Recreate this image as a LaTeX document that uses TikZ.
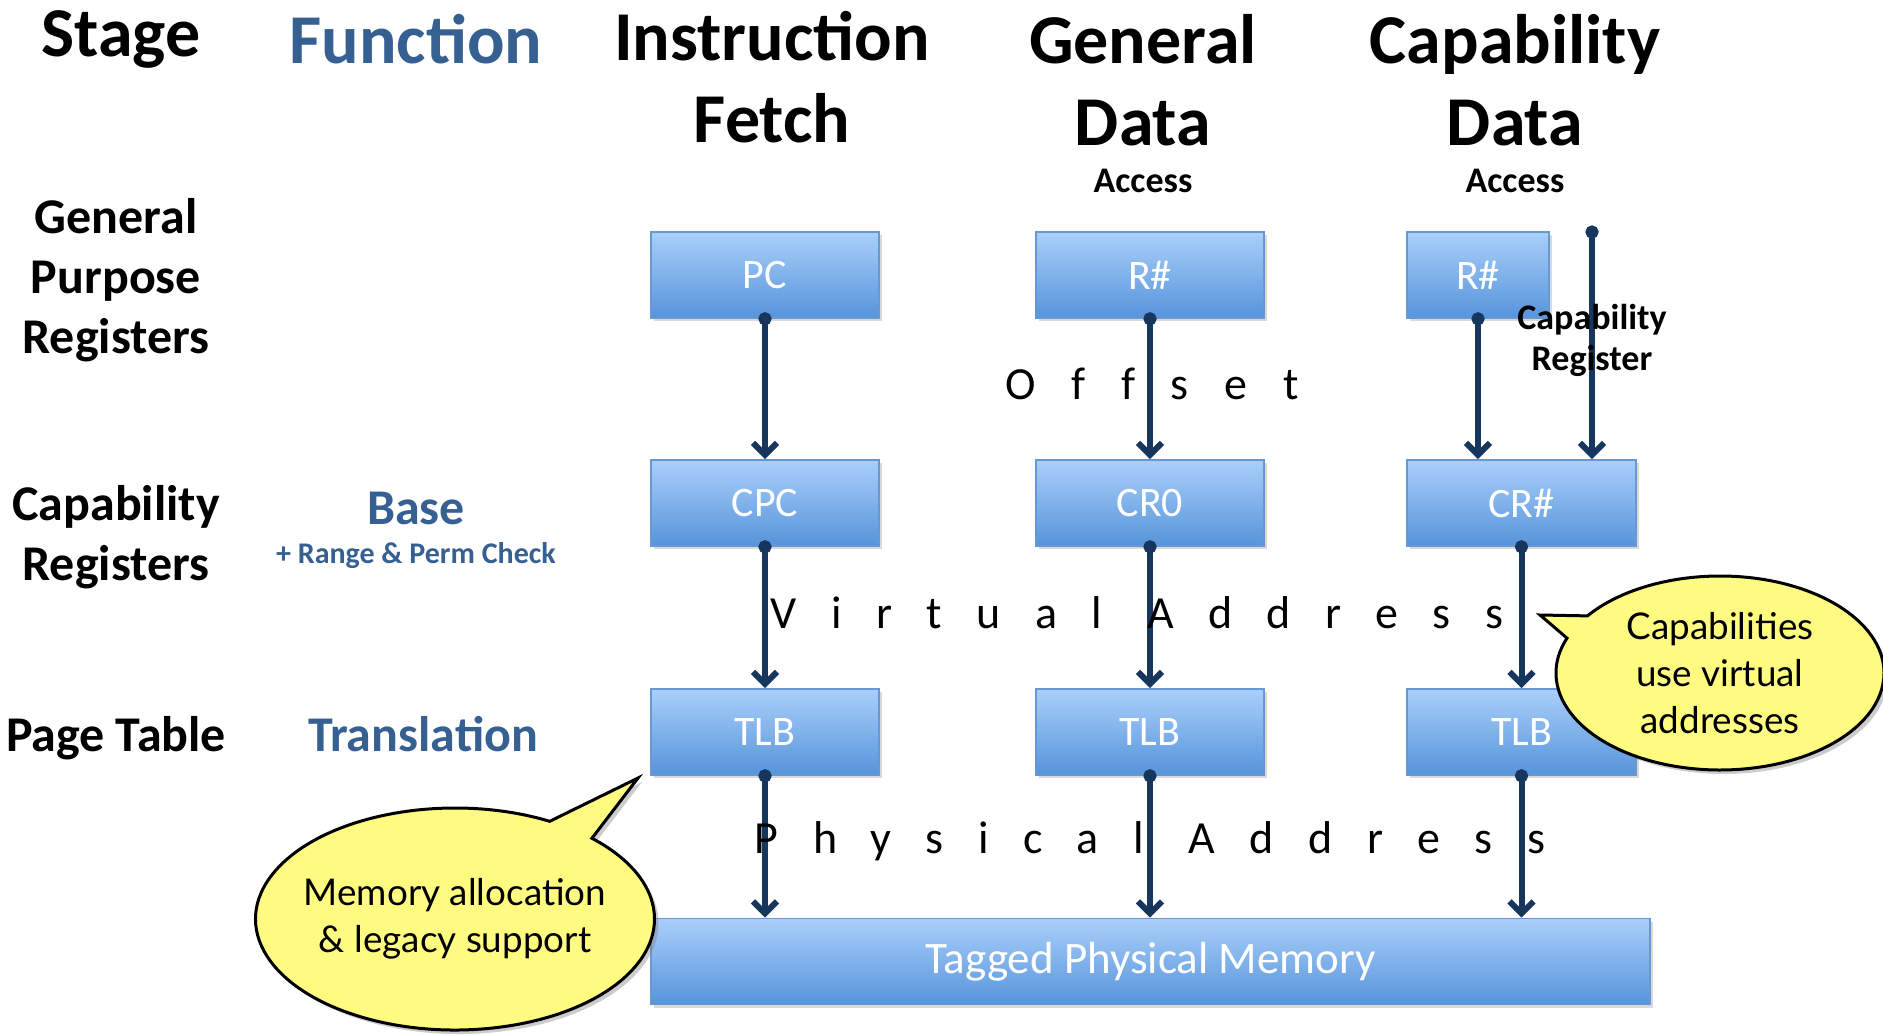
\documentclass[tikz,border=0pt]{standalone}
\usepackage{fontspec}
\setmainfont{Carlito}
\newfontfamily\bubblefont{Lato}
\usepackage{tikz}
\usetikzlibrary{positioning, arrows.meta, shapes.geometric, shapes.callouts, shadows}

\definecolor{boxtop}{RGB}{170,207,250}
\definecolor{boxbot}{RGB}{86,148,219}
\definecolor{boxline}{RGB}{104,152,212}
\definecolor{wirecol}{RGB}{23,54,93}
\definecolor{fnblue}{RGB}{54,96,146}
\definecolor{bubblecol}{RGB}{255,250,128}

\begin{document}
\begin{tikzpicture}[
  x=0.5pt, y=-0.5pt,
  reg/.style={draw=boxline, line width=0.8pt, top color=boxtop, bottom color=boxbot,
    minimum width=#1, minimum height=43pt, inner sep=0pt, text=white,
    font=\fontsize{21}{25}\selectfont,
    drop shadow={opacity=0.3, shadow xshift=1.5pt, shadow yshift=-1.5pt}},
  reg/.default=114pt,
  hdr/.style={font=\fontsize{35}{41}\selectfont\bfseries, align=center},
  row/.style={font=\fontsize{25}{30}\selectfont\bfseries, align=center},
  fn/.style={font=\fontsize{25}{30}\selectfont\bfseries, text=fnblue},
  sub/.style={font=\fontsize{18}{20.5}\selectfont\bfseries, align=center},
  spaced/.style={font=\fontsize{23}{27}\selectfont\addfontfeature{LetterSpace=#1, Ligatures=NoCommon}},
  link/.style={draw=wirecol, line width=3pt, shorten <=-3.25pt,
    {Circle[length=6.5pt]}-{Straight Barb[length=6pt, width=12pt]}},
  bubble/.style={ellipse callout, draw=black, line width=1.5pt, fill=bubblecol,
    inner sep=0pt, align=center, font=\bubblefont\fontsize{18.4}{23.5}\selectfont,
    drop shadow={opacity=0.4, shadow xshift=2pt, shadow yshift=-2pt}},
]
\useasboundingbox (0,0) rectangle (1883,1034);

% === HEADINGS ===
\node[hdr] (stage) at (121,39) {Stage};
\node[hdr, text=fnblue] (func) at (416,39) {Function};
\node[hdr] (ifetch) at (772,77) {Instruction\\Fetch};
\node[hdr] (gdata) at (1143,80) {General\\Data};
\node[sub] (gacc) at (1143,181) {Access};
\node[hdr] (cdata) at (1515,80) {Capability\\Data};
\node[sub] (cacc) at (1515,181) {Access};

% === ROW LABELS ===
\node[row] (gpr) at (116,280) {General\\Purpose\\Registers};
\node[row] (capr) at (116,537) {Capability\\Registers};
\node[row] (ptab) at (116,738) {Page Table};

\node[fn] (base) at (416,508) {Base};
\node[fn, font=\fontsize{15}{18}\selectfont\bfseries] (check) at (416,556) {+ Range \& Perm Check};
\node[fn] (trans) at (423,734) {Translation};

% === REGISTERS ===
\node[reg] (pc) at (765,275) {PC};
\node[reg] (rg) at (1150,275) {R\#};
\node[reg=71pt] (rc) at (1478,275) {R\#};

\node[reg] (cpc) at (765,503) {CPC};
\node[reg] (cr0) at (1150,503) {CR0};
\node[reg=114.5pt] (crc) at (1521.5,503) {CR\#};

\node[reg] (tlbi) at (765,732) {TLB};
\node[reg] (tlbg) at (1150,732) {TLB};
\node[reg=114.5pt] (tlbc) at (1521.5,732) {TLB};

\node[reg=499.5pt, font=\fontsize{22.5}{26}\selectfont] (mem) at (1150.5,961.5) {Tagged Physical Memory};

% === CONNECTORS ===
\coordinate (capsrc) at (1592,232);

\draw[link] (pc) -- (cpc);
\draw[link] (cpc) -- (tlbi);
\draw[link] (tlbi) -- (tlbi |- mem.north);

\draw[link] (rg) -- (cr0);
\draw[link] (cr0) -- (tlbg);
\draw[link] (tlbg) -- (tlbg |- mem.north);

\draw[link] (rc) -- (rc |- crc.north);
\draw[link] (capsrc) -- (capsrc |- crc.north);
\draw[link] (crc) -- (tlbc);
\draw[link] (tlbc) -- (tlbc |- mem.north);

% === ADDRESS LABELS ===
\node[spaced=78] (offs) at (1152,384) {Offset};
\node[spaced=75] (vaddr) at (1137,613) {Virtual Address};
\node[spaced=75] (paddr) at (1150,841) {Physical Address};
\node[sub] (capreg) at (1592,340) {Capability\\Register};

% === NOTES ===
\node[bubble, minimum width=164pt, minimum height=97pt,
  callout absolute pointer={(1540,615)}] (capnote) at (1720,673)
  {Capabilities\\use virtual\\addresses};
\node[bubble, inner xsep=-6pt, minimum width=199.5pt, minimum height=111pt,
  callout absolute pointer={(638,778)}] (memnote) at (455,919)
  {Memory allocation\\\& legacy support};

\end{tikzpicture}
\end{document}
